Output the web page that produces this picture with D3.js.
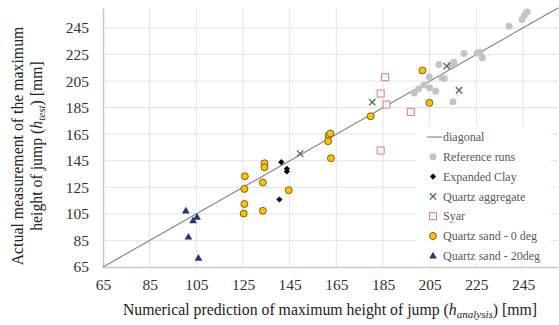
<!DOCTYPE html>
<html>
<head>
<meta charset="utf-8">
<script src="https://cdn.jsdelivr.net/npm/d3@7"></script>
<style>
  body { margin: 0; background: #fff; }
  svg text { font-family: "Liberation Serif", "Times New Roman", Times, "DejaVu Serif", serif !important; }
</style>
</head>
<body>
<svg id="chart" width="559" height="325"></svg>
<script>
// axis ticks
const ticks = [65, 85, 105, 125, 145, 165, 185, 205, 225, 245];

// [analysis, test] pairs per series
const referenceRuns = [
  [198.4, 196], [200.2, 199], [202.6, 202], [204.8, 208], [205, 200],
  [207.6, 197.4], [209, 217.5], [210.2, 207.5], [211.2, 207], [214, 217.5],
  [215.4, 219.2], [215, 189.4], [219.7, 225.7], [225.4, 226.2], [226.6, 226.7],
  [227.5, 222.5], [239, 246.3], [244.6, 251.4], [245.6, 254.4], [246.8, 256.9]
];
const expandedClay = [[141.4, 143.9], [143.8, 138.9], [143.8, 136.9], [140.6, 115.8]];
const quartzAggregate = [[149.5, 150.4], [180.4, 189.1], [212.3, 216.2], [217.6, 198.1]];
const syar = [[185.9, 207.9], [184, 195.6], [186.5, 187.3], [196.9, 181.8], [184, 152.7]];
const quartzSand0 = [
  [125.8, 133.3], [125.6, 123.8], [125.6, 112.5], [125.3, 105.2], [134.2, 143.1],
  [134.2, 140.1], [133.5, 128.6], [133.5, 107.3], [144.6, 122.8], [161.7, 164],
  [162.4, 165.5], [161.5, 159.7], [162.7, 146.9], [179.7, 178.5], [201.9, 213],
  [204.9, 188.6]
];
const quartzSand20 = [[100.5, 107.4], [105.3, 102.7], [103.6, 100], [101.6, 87.7], [105.9, 71.8]];
const diagonal = [[65, 65], [260, 260]];

const legendLabels = ["diagonal", "Reference runs", "Expanded Clay", "Quartz aggregate",
  "Syar", "Quartz sand - 0 deg", "Quartz sand - 20deg"];

const serif = '"Liberation Serif", "Times New Roman", Times, "DejaVu Serif", serif';

const svg = d3.select("#chart");
const margin = { left: 103, right: 1, top: 8, bottom: 58 };
const W = 559, H = 325;

const x = d3.scaleLinear().domain([65, 260]).range([margin.left, W - margin.right]);
const y = d3.scaleLinear().domain([65, 260]).range([H - margin.bottom, margin.top]);

// gridlines
svg.append("g").selectAll("line")
  .data(ticks.slice(1))
  .join("line")
  .attr("x1", x(65)).attr("x2", x(260))
  .attr("y1", d => y(d)).attr("y2", d => y(d))
  .attr("stroke", "#e4e4e4").attr("stroke-width", 1);

svg.append("g").selectAll("line")
  .data(ticks.slice(1))
  .join("line")
  .attr("y1", y(65)).attr("y2", y(260))
  .attr("x1", d => x(d)).attr("x2", d => x(d))
  .attr("stroke", "#e4e4e4").attr("stroke-width", 1);

// axes
const xAxis = d3.axisBottom(x).tickValues(ticks).tickSize(0).tickPadding(12);
const yAxis = d3.axisLeft(y).tickValues(ticks).tickSize(0).tickPadding(14);

const xAxisG = svg.append("g")
  .attr("transform", `translate(0,${y(65)})`)
  .call(xAxis);
const yAxisG = svg.append("g")
  .attr("transform", `translate(${x(65)},0)`)
  .call(yAxis);

[xAxisG, yAxisG].forEach(g => {
  g.attr("font-family", serif);
  g.select(".domain").attr("stroke", "#c8c8c8").attr("stroke-width", 1.5);
  g.selectAll("text")
    .style("font-family", serif)
    .attr("font-size", 15.5)
    .attr("fill", "#333");
});

// diagonal
svg.append("path")
  .datum(diagonal)
  .attr("d", d3.line().x(d => x(d[0])).y(d => y(d[1])))
  .attr("stroke", "#808080").attr("stroke-width", 1.1).attr("fill", "none");

// marker drawers
function drawCircles(g, cx, cy, fill, stroke) {
  g.append("circle").attr("cx", cx).attr("cy", cy).attr("r", 3.5)
    .attr("fill", fill).attr("stroke", stroke).attr("stroke-width", stroke === "none" ? 0 : 0.8);
}
const markers = {
  reference: (g, cx, cy) => drawCircles(g, cx, cy, "#c4c4c4", "none"),
  clay: (g, cx, cy) => g.append("path")
    .attr("d", d3.symbol(d3.symbolSquare, 19)())
    .attr("transform", `translate(${cx},${cy}) rotate(45)`).attr("fill", "#000"),
  aggregate: (g, cx, cy) => {
    const s = 3.2;
    g.append("path")
      .attr("d", `M${cx - s},${cy - s}L${cx + s},${cy + s}M${cx - s},${cy + s}L${cx + s},${cy - s}`)
      .attr("stroke", "#3e7a3a").attr("stroke-width", 1.3).attr("fill", "none");
  },
  syar: (g, cx, cy) => g.append("rect")
    .attr("x", cx - 3.5).attr("y", cy - 3.5).attr("width", 7).attr("height", 7)
    .attr("fill", "#fff").attr("stroke", "#f0707e").attr("stroke-width", 1),
  sand0: (g, cx, cy) => drawCircles(g, cx, cy, "#ffc000", "#5a4a10"),
  sand20: (g, cx, cy) => g.append("path")
    .attr("d", d3.symbol(d3.symbolTriangle, 26)())
    .attr("transform", `translate(${cx},${cy + 0.5})`).attr("fill", "#1f3a78")
};

const series = [
  { data: referenceRuns, marker: "reference" },
  { data: expandedClay, marker: "clay" },
  { data: quartzAggregate, marker: "aggregate" },
  { data: syar, marker: "syar" },
  { data: quartzSand0, marker: "sand0" },
  { data: quartzSand20, marker: "sand20" }
];

const pts = svg.append("g");
series.forEach(s => {
  s.data.forEach(d => markers[s.marker](pts, x(d[0]), y(d[1])));
});

// legend
const leg = svg.append("g");
leg.append("rect")
  .attr("x", 416).attr("y", 126).attr("width", 135).attr("height", 138)
  .attr("fill", "#fff");

const legKeys = ["diagonal", "reference", "clay", "aggregate", "syar", "sand0", "sand20"];
legKeys.forEach((k, i) => {
  const ly = 137 + i * 19.8;
  if (k === "diagonal") {
    leg.append("line").attr("x1", 427).attr("x2", 442).attr("y1", ly).attr("y2", ly)
      .attr("stroke", "#808080").attr("stroke-width", 1.1);
  } else {
    markers[k](leg, 433, ly);
  }
  leg.append("text")
    .attr("x", 443).attr("y", ly)
    .attr("dy", "0.35em")
    .style("font-family", serif)
    .attr("font-size", 12)
    .attr("fill", "#595959")
    .text(legendLabels[i]);
});

// axis titles
const xt = svg.append("text")
  .attr("x", 330).attr("y", 315)
  .attr("text-anchor", "middle")
  .style("font-family", serif)
  .attr("font-size", 15.8)
  .attr("fill", "#222");
xt.append("tspan").text("Numerical prediction of maximum height of jump (");
xt.append("tspan").attr("font-style", "italic").text("h");
xt.append("tspan").attr("font-style", "italic").attr("font-size", 11).attr("dy", 3).text("analysis");
xt.append("tspan").attr("dy", -3).text(") [mm]");

const yt = svg.append("g").attr("transform", "translate(0,146) rotate(-90)");
yt.append("text")
  .attr("x", 0).attr("y", 23)
  .attr("text-anchor", "middle")
  .style("font-family", serif)
  .attr("font-size", 15.8)
  .attr("fill", "#222")
  .text("Actual measurement of the maximum");
const yt2 = yt.append("text")
  .attr("x", 0).attr("y", 42)
  .attr("text-anchor", "middle")
  .style("font-family", serif)
  .attr("font-size", 15.8)
  .attr("fill", "#222");
yt2.append("tspan").text("height of jump (");
yt2.append("tspan").attr("font-style", "italic").text("h");
yt2.append("tspan").attr("font-style", "italic").attr("font-size", 11).attr("dy", 3).text("test");
yt2.append("tspan").attr("dy", -3).text(") [mm]");
</script>
</body>
</html>
